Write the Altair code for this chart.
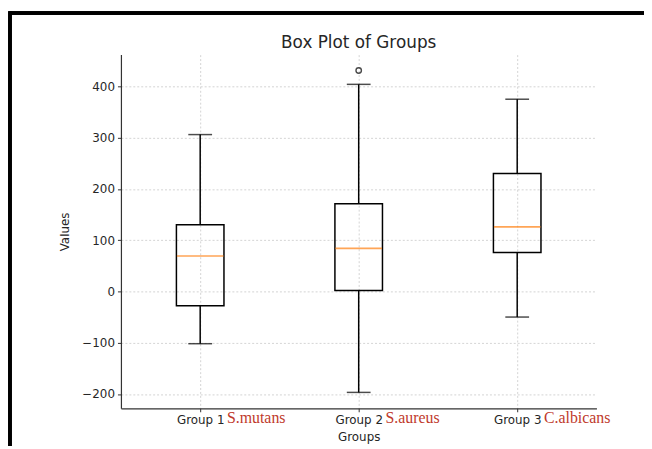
import altair as alt
import pandas as pd

# ---- data ----
title_text = ["Box Plot of Groups"]
groups = ["Group 1", "Group 2", "Group 3"]
species = ["S.mutans", "\u00a0S.aureus", "C.albicans"]
whisker_low = [-102, -197, -50]
q1 = [-28, 2, 76]
median = [69, 84, 126]
q3 = [130, 171, 230]
whisker_high = [306, 404, 375]
outlier_group = ["Group 2"]
outlier_value = [431]
y_ticks = [-200, -100, 0, 100, 200, 300, 400]

box_df = pd.DataFrame({
    "group": groups, "lo": whisker_low, "q1": q1, "med": median,
    "q3": q3, "hi": whisker_high, "species": species,
})
out_df = pd.DataFrame({"group": outlier_group, "value": outlier_value})
title_df = pd.DataFrame({"t": title_text})

W, H = 480, 357
FONT = "DejaVu Sans"
TXT = "#262626"
LW = 1.5

x_enc = alt.X("group:N", scale=alt.Scale(type="point", padding=0.5, domain=groups),
              axis=alt.Axis(title="Groups", labelAngle=0, grid=True))
y_scale = alt.Scale(domain=[-228, 462], nice=False, zero=False)
y_axis = alt.Axis(title="Values", values=y_ticks, grid=True)

base = alt.Chart(box_df)

low_whisk = base.mark_rule(color="black", strokeWidth=LW).encode(
    x=x_enc, y=alt.Y("lo:Q", scale=y_scale, axis=y_axis), y2="q1:Q")
high_whisk = base.mark_rule(color="black", strokeWidth=LW).encode(
    x=x_enc, y=alt.Y("q3:Q", scale=y_scale, axis=y_axis), y2="hi:Q")
box = base.mark_bar(filled=False, stroke="black", strokeWidth=LW, size=48).encode(
    x=x_enc, y=alt.Y("q1:Q", scale=y_scale, axis=y_axis), y2="q3:Q")
cap_lo = base.mark_tick(color="black", thickness=LW, size=24).encode(
    x=x_enc, y=alt.Y("lo:Q", scale=y_scale, axis=y_axis))
cap_hi = base.mark_tick(color="black", thickness=LW, size=24).encode(
    x=x_enc, y=alt.Y("hi:Q", scale=y_scale, axis=y_axis))
med = base.mark_tick(color="#ff7f0e", thickness=1.6, size=47).encode(
    x=x_enc, y=alt.Y("med:Q", scale=y_scale, axis=y_axis))
outl = alt.Chart(out_df).mark_point(shape="circle", filled=False, color="black",
                                    size=30, strokeWidth=1.4).encode(
    x=x_enc, y=alt.Y("value:Q", scale=y_scale, axis=y_axis))
red = base.mark_text(align="left", baseline="alphabetic", dx=27, font="Liberation Serif",
                     fontSize=16, color="#c0392b").encode(
    x=x_enc, y=alt.value(H + 15), text="species:N")

title = alt.Chart(title_df).mark_text(align="center", baseline="alphabetic", font=FONT,
                                      fontSize=17, color=TXT).encode(
    x=alt.value(W / 2), y=alt.value(-7), text="t:N")

border_top = alt.Chart(box_df).mark_rule(color="black", strokeWidth=3.5).encode(
    x=alt.value(-112), x2=alt.value(540), y=alt.value(-42))
border_left = alt.Chart(box_df).mark_rule(color="black", strokeWidth=3.5).encode(
    x=alt.value(-112), y=alt.value(-43.7), y2=alt.value(400))

chart = alt.layer(
    low_whisk, high_whisk, box, cap_lo, cap_hi, med, outl, red, title,
    border_top, border_left
).properties(
    width=W, height=H,
    autosize=alt.AutoSizeParams(type="none"),
    padding={"left": 114, "top": 45, "right": 48, "bottom": 36},
).configure_view(stroke=None).configure_axis(
    labelFont=FONT, labelFontSize=12, labelColor=TXT,
    titleFont=FONT, titleFontSize=12, titleColor=TXT, titleFontWeight="normal",
    domainColor="#333333", domainWidth=1.2, tickColor="#333333", tickSize=3.5,
    labelPadding=3, gridColor="#c8c8c8", gridDash=[2, 2], gridWidth=0.8,
).configure_axisY(titlePadding=10).configure_axisX(titlePadding=6)

chart.save("out.html", embed_options={"renderer": "svg", "actions": False})
